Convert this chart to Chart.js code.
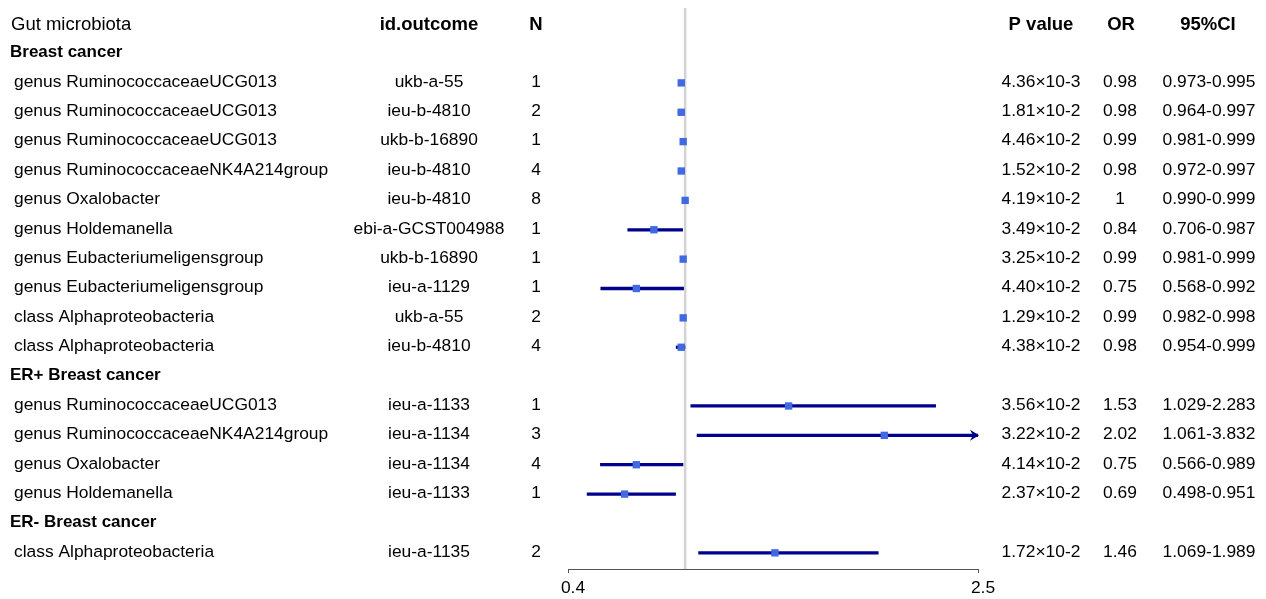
<!DOCTYPE html>
<html>
<head>
<meta charset="utf-8">
<script src="https://cdn.jsdelivr.net/npm/chart.js@4"></script>
<style>
  html, body { margin: 0; padding: 0; background: #fff; }
  #wrap { width: 1266px; height: 599px; }
</style>
</head>
<body>
<div id="wrap"><canvas id="forest" width="1266" height="599"></canvas></div>
<script>
// Table rows (one entry per row below the header)
const microbiota = [
  "Breast cancer",
  "genus RuminococcaceaeUCG013",
  "genus RuminococcaceaeUCG013",
  "genus RuminococcaceaeUCG013",
  "genus RuminococcaceaeNK4A214group",
  "genus Oxalobacter",
  "genus Holdemanella",
  "genus Eubacteriumeligensgroup",
  "genus Eubacteriumeligensgroup",
  "class Alphaproteobacteria",
  "class Alphaproteobacteria",
  "ER+ Breast cancer",
  "genus RuminococcaceaeUCG013",
  "genus RuminococcaceaeNK4A214group",
  "genus Oxalobacter",
  "genus Holdemanella",
  "ER- Breast cancer",
  "class Alphaproteobacteria",
];
const idOutcome = [
  "", "ukb-a-55", "ieu-b-4810", "ukb-b-16890", "ieu-b-4810", "ieu-b-4810",
  "ebi-a-GCST004988", "ukb-b-16890", "ieu-a-1129", "ukb-a-55", "ieu-b-4810",
  "", "ieu-a-1133", "ieu-a-1134", "ieu-a-1134", "ieu-a-1133",
  "", "ieu-a-1135",
];
const nSnp = ["", "1", "2", "1", "4", "8", "1", "1", "1", "2", "4", "", "1", "3", "4", "1", "", "2"];
const pValue = [
  "", "4.36×10-3", "1.81×10-2", "4.46×10-2", "1.52×10-2", "4.19×10-2",
  "3.49×10-2", "3.25×10-2", "4.40×10-2", "1.29×10-2", "4.38×10-2",
  "", "3.56×10-2", "3.22×10-2", "4.14×10-2", "2.37×10-2",
  "", "1.72×10-2",
];
const oddsRatio = [null, 0.98, 0.98, 0.99, 0.98, 1, 0.84, 0.99, 0.75, 0.99, 0.98, null, 1.53, 2.02, 0.75, 0.69, null, 1.46];
const ciLow  = [null, 0.973, 0.964, 0.981, 0.972, 0.990, 0.706, 0.981, 0.568, 0.982, 0.954, null, 1.029, 1.061, 0.566, 0.498, null, 1.069];
const ciHigh = [null, 0.995, 0.997, 0.999, 0.997, 0.999, 0.987, 0.999, 0.992, 0.998, 0.999, null, 2.283, 3.832, 0.989, 0.951, null, 1.989];
const headers = ["Gut microbiota", "id.outcome", "N", "P value", "OR", "95%CI"];
const xTicks = [0.4, 2.5];
const refValue = 1;

const FONT = "'Liberation Sans', Arial, Helvetica, sans-serif";
const rowCount = microbiota.length + 1; // header row + data rows

// build datasets from the arrays
const ciData = [];
const orData = [];
oddsRatio.forEach((v, i) => {
  if (v === null) return;
  ciData.push({ y: i + 1, x: [ciLow[i], ciHigh[i]] });
  orData.push({ x: v, y: i + 1 });
});

// draws the text columns and the clipped-CI arrows
const tablePlugin = {
  id: "tablePlugin",
  afterDatasetsDraw(chart) {
    const { ctx, scales } = chart;
    const xs = scales.x;
    const ys = scales.y;
    ctx.save();
    ctx.fillStyle = "#000";
    ctx.textBaseline = "middle";

    const put = (txt, x, y, align, font) => {
      ctx.font = font + " " + FONT;
      ctx.textAlign = align;
      ctx.fillText(txt, x, y);
    };

    // header row
    const hy = ys.getPixelForValue(0) + 1;
    put(headers[0], 11, hy, "left", "18.5px");
    put(headers[1], 429, hy, "center", "bold 18.5px");
    put(headers[2], 536, hy, "center", "bold 18.5px");
    put(headers[3], 1041, hy, "center", "bold 18.5px");
    put(headers[4], 1121, hy, "center", "bold 18.5px");
    put(headers[5], 1208, hy, "center", "bold 18.5px");

    microbiota.forEach((name, i) => {
      const y = ys.getPixelForValue(i + 1) - 1;
      const section = oddsRatio[i] === null;
      if (section) {
        put(name, 10, y, "left", "bold 17px");
        return;
      }
      put(name, 14, y, "left", "17.4px");
      put(idOutcome[i], 429, y, "center", "17.4px");
      put(nSnp[i], 536, y, "center", "17.4px");
      put(pValue[i], 1041, y, "center", "17.4px");
      put(String(oddsRatio[i]), 1120, y, "center", "17.4px");
      put(ciLow[i].toFixed(3) + "-" + ciHigh[i].toFixed(3), 1209, y, "center", "17.4px");
    });

    // arrow where the CI runs past the axis
    ciHigh.forEach((hi, i) => {
      if (hi === null || hi <= xs.max) return;
      const ax = xs.getPixelForValue(xs.max);
      const ay = ys.getPixelForValue(i + 1);
      ctx.fillStyle = "#00008B";
      ctx.beginPath();
      ctx.moveTo(ax + 1, ay);
      ctx.lineTo(ax - 8, ay - 5.5);
      ctx.lineTo(ax - 5, ay);
      ctx.lineTo(ax - 8, ay + 5.5);
      ctx.closePath();
      ctx.fill();
    });
    ctx.restore();
  },
};

new Chart(document.getElementById("forest"), {
  type: "bar",
  data: {
    datasets: [
      {
        type: "line",
        data: [{ x: refValue, y: -0.55 }, { x: refValue, y: rowCount - 0.45 }],
        borderColor: "#d3d3d3",
        borderWidth: 2.5,
        pointRadius: 0,
        order: 3,
      },
      {
        type: "bar",
        data: ciData,
        backgroundColor: "#00008B",
        barThickness: 2.6,
        order: 2,
      },
      {
        type: "scatter",
        data: orData,
        pointStyle: "rect",
        pointRadius: 5.2,
        backgroundColor: "#4169E1",
        borderWidth: 0,
        order: 1,
      },
    ],
  },
  options: {
    indexAxis: "y",
    responsive: false,
    animation: false,
    layout: { padding: { left: 568, right: 288, top: 8, bottom: 0 } },
    plugins: { legend: { display: false }, tooltip: { enabled: false } },
    scales: {
      x: {
        type: "linear",
        min: xTicks[0],
        max: xTicks[xTicks.length - 1],
        afterBuildTicks: (scale) => {
          scale.ticks = xTicks.map((v) => ({ value: v }));
        },
        afterFit: (scale) => {
          scale.height = 30;
        },
        grid: { drawOnChartArea: false, drawTicks: true, tickLength: 4, color: "#555" },
        border: { display: true, color: "#555", width: 1 },
        ticks: {
          padding: 5,
          labelOffset: 5,
          color: "#000",
          font: { family: FONT, size: 17.4 },
          maxRotation: 0,
          callback: (v) => String(v),
        },
      },
      y: {
        type: "linear",
        display: false,
        offset: false,
        reverse: true,
        min: -0.55,
        max: rowCount - 0.45,
      },
    },
  },
  plugins: [tablePlugin],
});
</script>
</body>
</html>
